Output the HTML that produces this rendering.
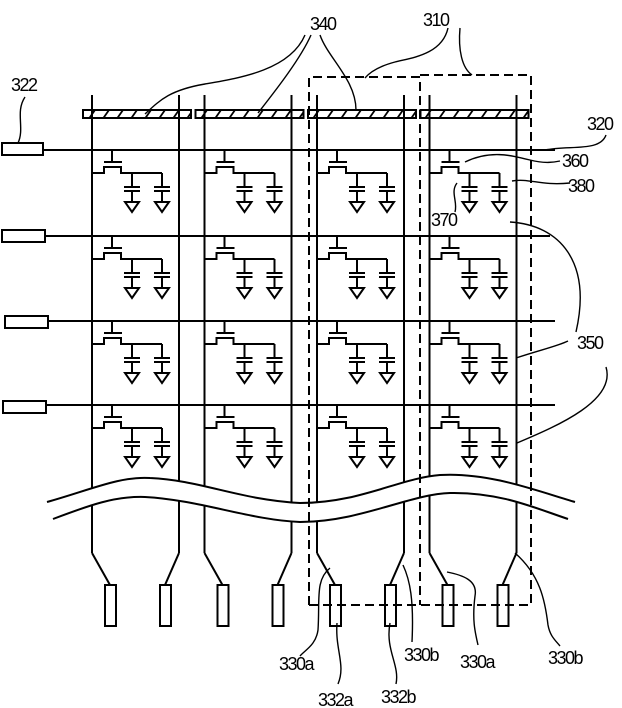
<!DOCTYPE html>
<html><head><meta charset="utf-8"><style>
html,body{margin:0;padding:0;background:#fff;}
svg{display:block;}
text{font-family:"Liberation Sans",sans-serif;font-size:18px;fill:#000;letter-spacing:-1.5px;}
</style></head><body>
<svg id="s" width="622" height="708" viewBox="0 0 622 708" xmlns="http://www.w3.org/2000/svg" fill="none" stroke="#000" stroke-width="2">
<defs>
<pattern id="h" width="14" height="10" patternUnits="userSpaceOnUse"><line x1="4" y1="10" x2="11" y2="0" stroke="#000" stroke-width="1.8"/></pattern>
</defs>
<g id="g"></g>
<path d="M47,502 C90,490 120,476 150,478 C200,480 240,500 300,503 C360,503 400,478 440,475 C490,472 540,492 575,502" fill="none"/>
<path d="M53,519 C90,505 115,496 145,497 C200,500 250,520 300,522 C360,522 410,494 450,493 C500,492 535,508 568,519" fill="none"/>
<path d="M309,605 V77 H420 V605" stroke-dasharray="9,5"/>
<path d="M309,605 H531 V75 H420" stroke-dasharray="9,5"/>
<g stroke-width="1.4">
<path d="M305,35 C290,70 240,78 205,84 C170,90 160,100 145,114"/>
<path d="M311,35 C300,60 272,95 258,113"/>
<path d="M320,35 C328,58 356,80 356,110"/>
<path d="M448,28 C442,55 410,58 395,62 C380,66 370,72 365,78"/>
<path d="M460,28 C458,50 462,68 472,75"/>
<path d="M25,97 C15,112 25,128 18,143"/>
<path d="M606,135 C600,152 570,145 545,150"/>
<path d="M465,162 C490,150 510,155 530,160 C545,164 555,162 560,161"/>
<path d="M512,181 C530,178 540,186 570,183"/>
<path d="M457,183 C450,192 458,202 455,212"/>
<path d="M510,222 C560,225 592,262 576,332"/>
<path d="M516,358 C540,350 558,346 568,341"/>
<path d="M517,443 C560,425 616,400 606,367"/>
<path d="M330,568 C315,580 320,600 318,630 C316,645 305,650 300,656"/>
<path d="M337,623 C335,650 346,665 338,684"/>
<path d="M403,565 C410,580 414,600 412,642"/>
<path d="M390,623 C385,650 400,665 396,684"/>
<path d="M447,572 C462,575 478,580 475,596 C472,620 475,632 478,645"/>
<path d="M515,553 C540,575 545,600 548,625 C550,636 555,640 560,646"/>
</g>
<g stroke="none">
<text x="310" y="30">340</text>
<text x="423" y="26">310</text>
<text x="11" y="91">322</text>
<text x="587" y="130">320</text>
<text x="562" y="167">360</text>
<text x="568" y="192">380</text>
<text x="431" y="226">370</text>
<text x="577" y="349">350</text>
<text x="279" y="670">330a</text>
<text x="318" y="706">332a</text>
<text x="404" y="661">330b</text>
<text x="460" y="668">330a</text>
<text x="548" y="664">330b</text>
<text x="381" y="703">332b</text>
</g>
</svg>
<script>
var g=document.getElementById('g'),h='';
function L(a,b,c,d){h+='<line x1="'+a+'" y1="'+b+'" x2="'+c+'" y2="'+d+'"/>';}
var G=[150,236,321,405],gl=[[2,43,143,555],[2,45,230,550],[5,48,316,555],[3,46,401,555]];
for(var r=0;r<4;r++){var q=gl[r];h+='<rect x="'+q[0]+'" y="'+q[2]+'" width="'+(q[1]-q[0])+'" height="12" fill="#fff"/>';L(q[1],G[r],q[3],G[r]);}
for(var c=0;c<4;c++){var Lx=92+112.5*c,R=Lx+87,pl=Lx+13,pr=R-19;
 h+='<rect x="'+(Lx-9)+'" y="110" width="108" height="8" fill="url(#h)"/>';
 L(Lx,95,Lx,553);L(Lx,553,pl+5,585);L(R,95,R,553);L(R,553,pr+5,585);
 h+='<rect x="'+pl+'" y="585" width="11" height="41" fill="#fff"/><rect x="'+pr+'" y="585" width="11" height="41" fill="#fff"/>';
 for(var r=0;r<4;r++){var y=G[r];
  L(Lx+20,y,Lx+20,y+12);L(Lx+12,y+12,Lx+30,y+12);
  h+='<polyline points="'+Lx+','+(y+23)+' '+(Lx+12)+','+(y+23)+' '+(Lx+12)+','+(y+17)+' '+(Lx+29)+','+(y+17)+' '+(Lx+29)+','+(y+23)+' '+(Lx+70)+','+(y+23)+'"/>';
  [Lx+40,Lx+70].forEach(function(x){L(x,y+23,x,y+37);L(x-8,y+37,x+8,y+37);L(x-8,y+41,x+8,y+41);L(x,y+41,x,y+52);
   h+='<polygon points="'+(x-7)+','+(y+52)+' '+(x+7)+','+(y+52)+' '+x+','+(y+62)+'"/>';});
 }}
g.innerHTML=h;
var s=document.getElementById('s');
var p=document.createElementNS('http://www.w3.org/2000/svg','path');
p.setAttribute('d','M47,502 C90,490 120,476 150,478 C200,480 240,500 300,503 C360,503 400,478 440,475 C490,472 540,492 575,502 L568,519 C535,508 500,492 450,493 C410,494 360,522 300,522 C250,520 200,500 145,497 C115,496 90,505 53,519 Z');
p.setAttribute('fill','#fff');p.setAttribute('stroke','none');
s.insertBefore(p,g.nextSibling);
</script>
</body></html>
